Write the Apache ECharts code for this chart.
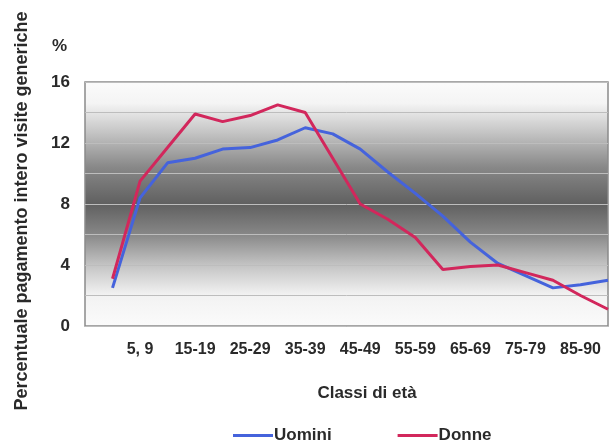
<!DOCTYPE html>
<html>
<head>
<meta charset="utf-8">
<script src="https://cdn.jsdelivr.net/npm/echarts@6/dist/echarts.min.js"></script>
<style>
html,body{margin:0;padding:0;background:#fff;}
#c{width:610px;height:443px;}
</style>
</head>
<body>
<div id="c"></div>
<script>
var categories = ['', '0-4', '5, 9', '10-14', '15-19', '20-24', '25-29', '30-34', '35-39', '40-44', '45-49', '50-54', '55-59', '60-64', '65-69', '70-74', '75-79', '80-84', '85-90', '>90'];
var uomini = [null, 2.5, 8.4, 10.7, 11.0, 11.6, 11.7, 12.2, 13.0, 12.6, 11.6, 10.1, 8.7, 7.2, 5.5, 4.1, 3.3, 2.5, 2.7, 3.0];
var donne  = [null, 3.1, 9.5, 11.7, 13.9, 13.4, 13.8, 14.5, 14.0, 11.0, 8.0, 7.0, 5.8, 3.7, 3.9, 4.0, 3.5, 3.0, 2.0, 1.1];
var seriesNames = ['Uomini', 'Donne'];
var yTickLabels = ['0', '4', '8', '12', '16'];
var yTitle = 'Percentuale pagamento intero visite generiche';
var xTitle = 'Classi di età';
var unitLabel = '%';

var FONT = '"Liberation Sans", Arial, sans-serif';
var TXT = '#2a2a2a';
var chart = echarts.init(document.getElementById('c'), null, {renderer: 'canvas'});
chart.setOption({
  animation: false,
  backgroundColor: '#fff',
  grid: {
    left: 85, top: 82, right: 2, bottom: 117,
    show: true,
    borderColor: '#8a8a8a', borderWidth: 1.5,
    backgroundColor: {
      type: 'linear', x: 0, y: 0, x2: 0, y2: 1,
      colorStops: [
        {offset: 0, color: '#fbfbfb'},
        {offset: 0.09, color: '#f4f4f4'},
        {offset: 0.2, color: '#c8c8c8'},
        {offset: 0.35, color: '#888888'},
        {offset: 0.5, color: '#606060'},
        {offset: 0.62, color: '#868686'},
        {offset: 0.75, color: '#c4c4c4'},
        {offset: 0.87, color: '#f2f2f2'},
        {offset: 1, color: '#fbfbfb'}
      ]
    }
  },
  legend: {
    data: seriesNames,
    top: 422, left: 228,
    icon: 'rect',
    itemWidth: 40, itemHeight: 3, itemGap: 66,
    textStyle: {fontFamily: FONT, fontSize: 17, fontWeight: 'bold', color: TXT, padding: [0, 0, 0, -4]}
  },
  xAxis: {
    type: 'category', data: categories, boundaryGap: false,
    axisLine: {show: false}, axisTick: {show: false},
    splitLine: {show: false},
    axisLabel: {
      interval: function (i) { return i >= 2 && i <= 18 && i % 2 === 0; },
      margin: 16, fontFamily: FONT, fontSize: 16, fontWeight: 'bold', color: TXT
    }
  },
  yAxis: {
    type: 'value', min: 0, max: 16, interval: 2,
    axisLine: {show: false}, axisTick: {show: false},
    splitLine: {show: true, lineStyle: {color: '#bdbdbd', width: 1}},
    axisLabel: {
      margin: 15, fontFamily: FONT, fontSize: 17, fontWeight: 'bold', color: TXT,
      formatter: function (v) { return yTickLabels.indexOf(String(v)) >= 0 ? String(v) : ''; }
    }
  },
  graphic: [
    {type: 'text', left: 52, top: 38, style: {text: unitLabel, font: 'bold 17px ' + FONT, fill: TXT}},
    {type: 'text', x: 22, y: 211, rotation: Math.PI / 2,
      style: {text: yTitle, font: 'bold 18px ' + FONT, fill: TXT, align: 'center', verticalAlign: 'middle'}},
    {type: 'text', x: 367, y: 393,
      style: {text: xTitle, font: 'bold 17px ' + FONT, fill: TXT, align: 'center', verticalAlign: 'middle'}}
  ],
  series: [
    {name: seriesNames[0], type: 'line', data: uomini, symbol: 'none', connectNulls: false,
      lineStyle: {color: '#4563dc', width: 3}, itemStyle: {color: '#4563dc'}},
    {name: seriesNames[1], type: 'line', data: donne, symbol: 'none', connectNulls: false,
      lineStyle: {color: '#d2275c', width: 3}, itemStyle: {color: '#d2275c'}}
  ]
});
</script>
</body>
</html>
